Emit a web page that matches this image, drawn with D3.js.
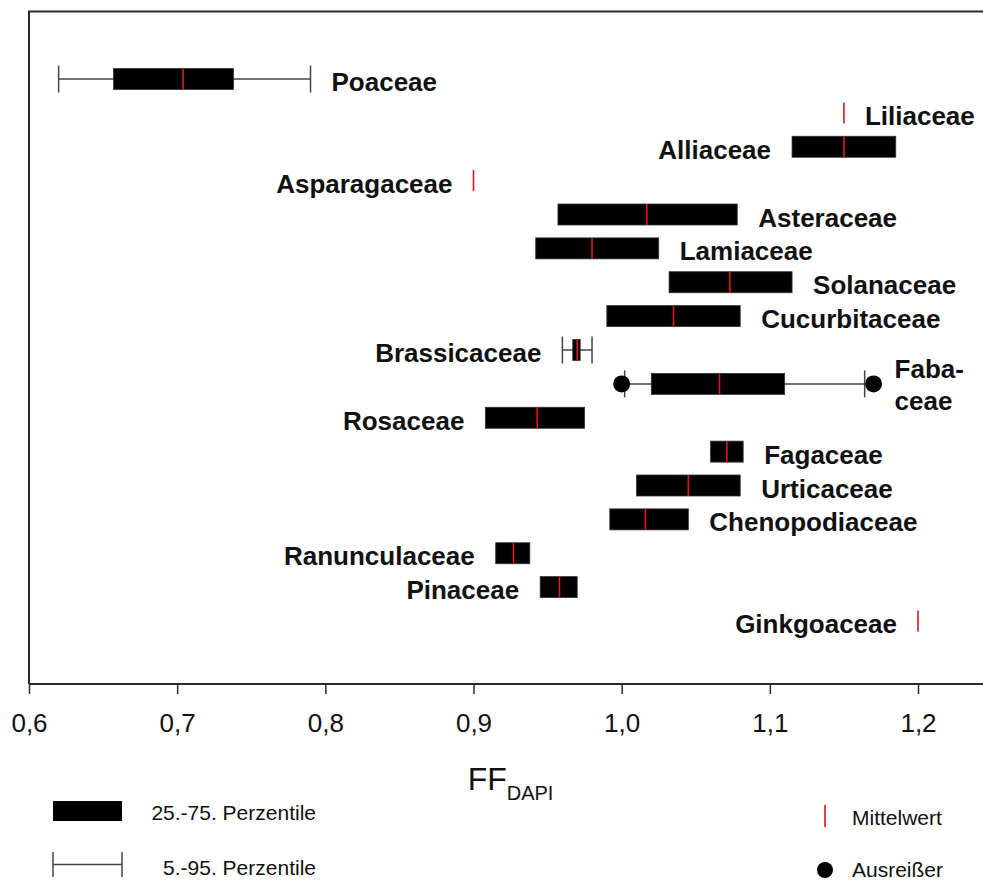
<!DOCTYPE html>
<html>
<head>
<meta charset="utf-8">
<script src="https://cdn.jsdelivr.net/npm/d3@7"></script>
<style>
  html, body { margin: 0; padding: 0; background: #fff; }
  svg { display: block; }
  text { font-family: "Liberation Sans", Arial, Helvetica, sans-serif; fill: #111; }
</style>
</head>
<body>
<svg id="chart" width="983" height="880"></svg>
<script>
// Plant families, top to bottom
const families = ["Poaceae", "Liliaceae", "Alliaceae", "Asparagaceae", "Asteraceae", "Lamiaceae",
  "Solanaceae", "Cucurbitaceae", "Brassicaceae", "Fabaceae", "Rosaceae", "Fagaceae",
  "Urticaceae", "Chenopodiaceae", "Ranunculaceae", "Pinaceae", "Ginkgoaceae"];

// 5th / 95th percentiles (null = not shown)
const p05 = [0.620, null, null, null, null, null, null, null, 0.960, 1.002, null, null, null, null, null, null, null];
const p95 = [0.790, null, null, null, null, null, null, null, 0.980, 1.164, null, null, null, null, null, null, null];
// 25th / 75th percentiles
const p25 = [0.657, null, 1.115, null, 0.957, 0.942, 1.032, 0.990, 0.967, 1.020, 0.908, 1.060, 1.010, 0.992, 0.915, 0.945, null];
const p75 = [0.738, null, 1.185, null, 1.078, 1.025, 1.115, 1.080, 0.972, 1.110, 0.975, 1.082, 1.080, 1.045, 0.938, 0.970, null];
// mean values
const means = [0.704, 1.150, 1.150, 0.900, 1.017, 0.980, 1.073, 1.035, 0.970, 1.066, 0.943, 1.071, 1.045, 1.016, 0.927, 0.958, 1.200];
// outliers per family
const outliers = [[], [], [], [], [], [], [], [], [], [1.000, 1.170], [], [], [], [], [], [], []];
// which side of the mark each family name sits on
const labelSide = ["right", "right", "left", "left", "right", "right", "right", "right", "left", "right",
  "left", "right", "right", "right", "left", "left", "left"];

const xTicks = [0.6, 0.7, 0.8, 0.9, 1.0, 1.1, 1.2];
const tickFormat = d => d3.format(".1f")(d).replace(".", ",");

const svg = d3.select("#chart");
const frame = { left: 29, top: 11.5, bottom: 684 };

const x = d3.scaleLinear().domain([0.6, 1.2]).range([29, 918]);
const y = d3.scalePoint().domain(families).range([79, 621]);
const xMax = 1.25;

const rows = families.map((f, i) => ({
  name: f, p05: p05[i], p95: p95[i], p25: p25[i], p75: p75[i],
  mean: means[i], out: outliers[i], side: labelSide[i]
}));

const BOX_H = 21, CAP_H = 27, RED = "#e2141e";

// frame (top + left); the right edge runs past the drawing area
svg.append("path")
  .attr("d", `M${x(xMax)},${frame.top}H${frame.left}V${frame.bottom}`)
  .attr("fill", "none").attr("stroke", "#2a2a2a").attr("stroke-width", 2);

// x axis
const axis = svg.append("g").attr("transform", `translate(0,${frame.bottom})`)
  .call(d3.axisBottom(x).tickValues(xTicks).tickFormat(tickFormat).tickSize(10).tickPadding(0));
axis.select(".domain").attr("d", `M${frame.left},0H${x(xMax)}`).attr("stroke", "#2a2a2a").attr("stroke-width", 2);
axis.selectAll(".tick line").attr("stroke", "#2a2a2a").attr("stroke-width", 1.5);
axis.selectAll(".tick text").attr("font-size", 26).attr("font-family", "Liberation Sans, Arial, sans-serif")
  .attr("fill", "#111").attr("dy", null).attr("y", 48);

// axis title
const title = svg.append("text").attr("x", (x(0.6) + x(xMax)) / 2).attr("y", 790).attr("text-anchor", "middle");
title.append("tspan").attr("font-size", 32).text("FF");
title.append("tspan").attr("font-size", 20).attr("dy", 10).text("DAPI");

const g = svg.append("g");
const row = g.selectAll("g.row").data(rows).join("g").attr("class", "row")
  .attr("transform", d => `translate(0,${y(d.name)})`);

// whiskers
const wh = row.filter(d => d.p05 != null);
wh.append("line").attr("x1", d => x(d.p05)).attr("x2", d => x(d.p95)).attr("y1", 0).attr("y2", 0)
  .attr("stroke", "#444").attr("stroke-width", 1.5);
wh.selectAll("line.cap").data(d => [d.p05, d.p95]).join("line").attr("class", "cap")
  .attr("x1", v => x(v)).attr("x2", v => x(v)).attr("y1", -CAP_H / 2).attr("y2", CAP_H / 2)
  .attr("stroke", "#444").attr("stroke-width", 1.5);

// interquartile boxes
row.filter(d => d.p25 != null).append("rect")
  .attr("x", d => x(d.p25)).attr("width", d => x(d.p75) - x(d.p25))
  .attr("y", -BOX_H / 2).attr("height", BOX_H)
  .attr("fill", "#000").attr("stroke", "#333").attr("stroke-width", 0.8);

// means
row.append("line").attr("x1", d => x(d.mean)).attr("x2", d => x(d.mean))
  .attr("y1", -BOX_H / 2).attr("y2", BOX_H / 2)
  .attr("stroke", RED).attr("stroke-width", 1.6);

// outliers
row.selectAll("circle").data(d => d.out).join("circle")
  .attr("cx", v => x(v)).attr("cy", 0).attr("r", 8.5).attr("fill", "#000");

// family names
const GAP = 21;
row.each(function(d) {
  const vals = [d.p05, d.p95, d.p25, d.p75, d.mean, ...d.out].filter(v => v != null);
  const lo = d3.min(vals), hi = d3.max(vals);
  const t = d3.select(this).append("text")
    .attr("font-size", 26).attr("font-weight", "bold")
    .attr("text-anchor", d.side === "right" ? "start" : "end")
    .attr("x", d.side === "right" ? x(hi) + GAP : x(lo) - GAP);
  if (d.name === "Fabaceae") {
    t.attr("y", -6);
    t.append("tspan").text("Faba-");
    t.append("tspan").attr("x", x(hi) + GAP).attr("dy", 32).text("ceae");
  } else {
    t.attr("y", 12).text(d.name);
  }
});

// legend
const lg = svg.append("g");
lg.append("rect").attr("x", 53).attr("y", 801).attr("width", 69).attr("height", 20).attr("fill", "#000");
lg.append("text").attr("x", 316).attr("y", 820).attr("text-anchor", "end").attr("font-size", 21).text("25.-75. Perzentile");
lg.append("line").attr("x1", 53).attr("x2", 122).attr("y1", 864.5).attr("y2", 864.5).attr("stroke", "#444").attr("stroke-width", 1.5);
[53, 122].forEach(cx => lg.append("line").attr("x1", cx).attr("x2", cx).attr("y1", 852).attr("y2", 877)
  .attr("stroke", "#444").attr("stroke-width", 1.5));
lg.append("text").attr("x", 316).attr("y", 875).attr("text-anchor", "end").attr("font-size", 21).text("5.-95. Perzentile");
lg.append("line").attr("x1", 825).attr("x2", 825).attr("y1", 805).attr("y2", 827).attr("stroke", RED).attr("stroke-width", 1.6);
lg.append("text").attr("x", 852).attr("y", 825).attr("font-size", 21).text("Mittelwert");
lg.append("circle").attr("cx", 825).attr("cy", 870).attr("r", 8).attr("fill", "#000");
lg.append("text").attr("x", 852).attr("y", 877).attr("font-size", 21).text("Ausreißer");
</script>
</body>
</html>
